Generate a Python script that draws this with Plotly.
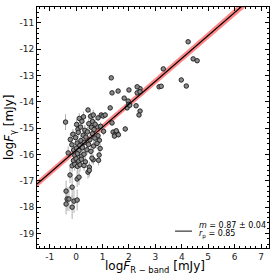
import plotly.graph_objects as go
import numpy as np

# ---- data ----
x_vals = [4.24, 4.43, 4.58, 3.30, 3.98, 4.17, 3.14, 3.22, 2.42, 2.42,
          1.33, 1.36, 1.59, 2.00, 1.82, 1.97, 2.31, 2.31, 2.42, 1.29, 0.45, 1.93, 2.27, 1.99, 2.03, 2.38,
          0.95, 1.02, 1.10, 0.83, 0.80, 1.36, 1.86, 1.40, 1.48, 1.55, 1.45, 1.60, 1.52, 0.55, 0.65, 0.62, 0.72,
          0.12, 0.28, -0.40, 0.02, 0.22, 0.48, 0.07, 0.17, 0.33, 0.58, 0.68, 0.93,
          -0.12, 0.08, 0.27, 0.43, 0.62, 0.83, 1.04, -0.22, -0.02, 0.18, 0.37, 0.52, 0.71, 0.88,
          -0.16, 0.04, 0.14, 0.31, 0.47, 0.66, 0.79, -0.09, 0.01, 0.11, 0.24, 0.41, 0.56, 0.91,
          -0.30, -0.05, 0.05, 0.20, 0.30, 0.87, 0.65, -0.10, 0.00, 0.10, 0.20, 0.35, 0.60, 0.85,
          -0.15, -0.05, 0.05, 0.15, 0.30, 0.50, -0.23, 0.04, 0.11, 0.45, 0.50,
          -0.38, -0.34, -0.38, -0.27, -0.15, -0.08, -0.15, 0.04]
y_vals = [-11.72, -12.37, -12.44, -12.75, -13.17, -13.40, -13.43, -13.41, -13.50, -14.35,
          -13.09, -13.66, -13.59, -13.55, -13.86, -13.97, -13.43, -13.66, -13.62, -14.23, -14.31, -14.23, -14.15, -14.10, -14.13, -14.50,
          -14.50, -14.54, -14.50, -14.61, -14.95, -14.80, -15.03, -15.15, -15.22, -15.18, -15.30, -15.25, -15.10, -14.55, -14.50, -14.75, -14.85,
          -14.63, -14.57, -14.77, -14.86, -14.74, -14.83, -15.04, -14.96, -15.08, -14.97, -15.05, -14.93,
          -15.23, -15.16, -15.27, -15.14, -15.21, -15.29, -15.12, -15.43, -15.36, -15.47, -15.34, -15.44, -15.38, -15.46,
          -15.63, -15.57, -15.66, -15.54, -15.62, -15.68, -15.58, -15.83, -15.76, -15.85, -15.74, -15.82, -15.88, -15.77,
          -15.94, -16.04, -15.97, -16.06, -15.99, -16.02, -16.20, -16.23, -16.16, -16.25, -16.18, -16.28, -16.14, -16.22,
          -16.43, -16.37, -16.45, -16.39, -16.42, -16.48, -16.78, -16.93, -16.86, -16.67, -16.60,
          -17.39, -17.69, -17.88, -17.69, -17.24, -17.77, -18.00, -17.73]
y_err = [0.05, 0.05, 0.05, 0.05, 0.05, 0.05, 0.05, 0.05, 0.05, 0.05,
         0.05, 0.05, 0.05, 0.05, 0.05, 0.05, 0.05, 0.05, 0.05, 0.05, 0.08, 0.05, 0.05, 0.05, 0.05, 0.05,
         0.10, 0.10, 0.10, 0.10, 0.10, 0.10, 0.10, 0.10, 0.10, 0.10, 0.10, 0.10, 0.10, 0.20, 0.20, 0.20, 0.20,
         0.20, 0.20, 0.30, 0.20, 0.20, 0.20, 0.20, 0.20, 0.20, 0.20, 0.20, 0.15,
         0.20, 0.20, 0.20, 0.20, 0.20, 0.15, 0.15, 0.25, 0.20, 0.20, 0.20, 0.20, 0.20, 0.15,
         0.25, 0.20, 0.20, 0.20, 0.20, 0.20, 0.20, 0.25, 0.20, 0.20, 0.20, 0.20, 0.20, 0.20,
         0.25, 0.25, 0.20, 0.20, 0.20, 0.20, 0.20, 0.25, 0.25, 0.20, 0.20, 0.20, 0.20, 0.20,
         0.25, 0.25, 0.25, 0.25, 0.20, 0.20, 0.30, 0.30, 0.30, 0.25, 0.25,
         0.40, 0.45, 0.40, 0.45, 0.40, 0.45, 0.45, 0.40]

slope, slope_err = 0.87, 0.04
intercept = -15.83
r_p = 0.85

x_ticks = [-1, 0, 1, 2, 3, 4, 5, 6, 7]
y_ticks = [-11, -12, -13, -14, -15, -16, -17, -18, -19]
x_range = [-1.48, 7.3]
y_range = [-19.55, -10.4]

# ---- fit line + band ----
xl = np.linspace(x_range[0], x_range[1], 200)
yl = slope * xl + intercept
half = np.sqrt(0.12 ** 2 + (0.015 * (xl - 0.6)) ** 2)

fig = go.Figure()
fig.add_trace(go.Scatter(x=np.concatenate([xl, xl[::-1]]),
                         y=np.concatenate([yl + half, (yl - half)[::-1]]),
                         fill="toself", fillcolor="rgba(255,70,70,0.65)",
                         line=dict(width=0), mode="lines", hoverinfo="skip"))
fig.add_trace(go.Scatter(x=x_vals, y=y_vals, mode="markers", hoverinfo="skip",
                         error_y=dict(type="data", array=y_err, color="#b0b0b0", thickness=1, width=0),
                         marker=dict(size=4.5, color="#8a8a8a", line=dict(color="#1a1a1a", width=0.9))))
fig.add_trace(go.Scatter(x=xl, y=yl, mode="lines", hoverinfo="skip", line=dict(color="black", width=1.2)))

axis_common = dict(showgrid=False, zeroline=False, showline=True, linecolor="black", linewidth=1,
                   mirror="ticks", ticks="inside", ticklen=4, tickcolor="black", automargin=False,
                   tickfont=dict(family="DejaVu Sans", size=9, color="#222"),
                   minor=dict(ticks="inside", ticklen=2, dtick=0.2, tickcolor="black"))
fig.update_xaxes(range=x_range, tickvals=x_ticks, ticktext=[str(v) for v in x_ticks], **axis_common)
fig.update_yaxes(range=y_range, tickvals=y_ticks, ticktext=[str(v) for v in y_ticks], **axis_common)

title_font = dict(family="DejaVu Sans", size=12, color="black")
fig.add_annotation(xref="paper", yref="paper", x=0.509, y=-0.08, xanchor="center", yanchor="middle",
                   text="log<i>F</i><sub>R − band</sub> [mJy]", showarrow=False, font=title_font)
fig.add_annotation(xref="paper", yref="paper", x=-0.118, y=0.50, xanchor="center", yanchor="middle",
                   text="log<i>F</i><sub>γ</sub> [mJy]", showarrow=False, font=title_font, textangle=-90)

fig.add_shape(type="line", xref="paper", yref="paper", x0=0.595, x1=0.668, y0=0.07, y1=0.07,
              line=dict(color="#333", width=1.2))
fig.add_annotation(xref="paper", yref="paper", x=0.69, y=0.095, xanchor="left", yanchor="middle",
                   text=f"<i>m</i> = {slope:.2f} ± {slope_err:.2f}", showarrow=False,
                   font=dict(family="DejaVu Sans", size=8, color="black"))
fig.add_annotation(xref="paper", yref="paper", x=0.69, y=0.055, xanchor="left", yanchor="middle",
                   text=f"<i>r</i><sub>p</sub> = {r_p:.2f}", showarrow=False,
                   font=dict(family="DejaVu Sans", size=8, color="black"))

fig.update_layout(width=280, height=280, margin=dict(l=37, r=11, t=7, b=32),
                  plot_bgcolor="white", paper_bgcolor="white", showlegend=False, hovermode=False)
fig.write_html("out.html", config={"displayModeBar": False},
               post_script="document.body.style.margin='0';")
